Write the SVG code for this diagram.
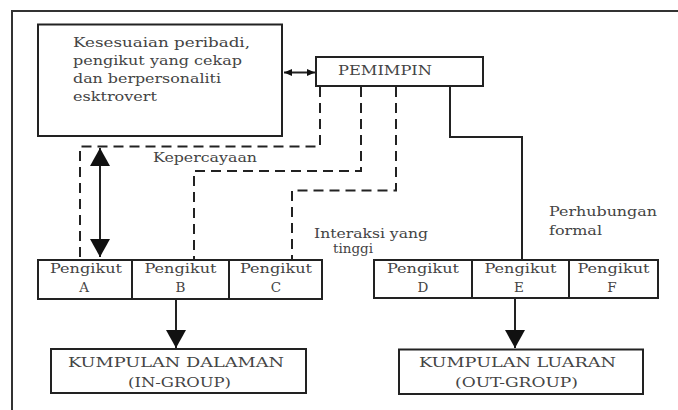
<svg xmlns="http://www.w3.org/2000/svg" width="678" height="410" viewBox="0 0 678 410">
  <defs>
    <marker id="big" viewBox="0 0 18 20" refX="18" refY="10" markerWidth="18" markerHeight="20" markerUnits="userSpaceOnUse" orient="auto-start-reverse">
      <path d="M0,0 L18,10 L0,20 Z" fill="#111"/>
    </marker>
    <marker id="small" viewBox="0 0 8 7" refX="8" refY="3.5" markerWidth="8" markerHeight="7" markerUnits="userSpaceOnUse" orient="auto-start-reverse">
      <path d="M0,0 L8,3.5 L0,7 Z" fill="#111"/>
    </marker>
  </defs>
  <style>
    .box { fill: #fff; stroke: #222; stroke-width: 2; }
    .t { font-family: "DejaVu Serif", "Liberation Serif", serif; font-size: 13.5px; fill: #444; }
    .c { text-anchor: middle; }
    .dash { fill: none; stroke: #222; stroke-width: 2; stroke-dasharray: 10 6; }
    .solid { fill: none; stroke: #222; stroke-width: 2; }
  </style>
  <rect x="0" y="0" width="678" height="410" fill="#fff"/>
  <path d="M12,410 L12,11 L678,11" fill="none" stroke="#333" stroke-width="2"/>

  <g id="connectors">
    <path class="dash" d="M320,87 L320,146.5 L80,146.5 L80,260"/>
    <path class="dash" d="M361,87 L361,171 L194,171 L194,260"/>
    <path class="dash" d="M396,87 L396,190.5 L292,190.5 L292,260"/>
    <path class="solid" d="M450,87 L450,137 L522,137 L522,260"/>
    <line class="solid" x1="284" y1="72.5" x2="315" y2="72.5" marker-start="url(#small)" marker-end="url(#small)"/>
    <line class="solid" x1="100" y1="148" x2="100" y2="257" marker-start="url(#big)" marker-end="url(#big)"/>
    <line class="solid" x1="176" y1="300" x2="176" y2="348" marker-end="url(#big)"/>
    <line class="solid" x1="515" y1="298" x2="515" y2="348" marker-end="url(#big)"/>
  </g>

  <g id="label-kepercayaan">
    <text class="t" x="153" y="162" textLength="104" lengthAdjust="spacingAndGlyphs">Kepercayaan</text>
  </g>
  <g id="label-interaksi">
    <text class="t" x="314" y="238" textLength="114" lengthAdjust="spacingAndGlyphs">Interaksi yang</text>
    <text class="t c" x="353" y="253">tinggi</text>
  </g>
  <g id="label-perhubungan">
    <text class="t" x="549" y="216" textLength="108" lengthAdjust="spacingAndGlyphs">Perhubungan</text>
    <text class="t" x="549" y="235" textLength="53" lengthAdjust="spacingAndGlyphs">formal</text>
  </g>

  <g id="sifat">
    <rect class="box" x="38" y="24.5" width="244" height="111.5"/>
    <text class="t" x="73" y="47" textLength="177" lengthAdjust="spacingAndGlyphs">Kesesuaian peribadi,</text>
    <text class="t" x="73" y="65" textLength="169" lengthAdjust="spacingAndGlyphs">pengikut yang cekap</text>
    <text class="t" x="73" y="83" textLength="148" lengthAdjust="spacingAndGlyphs">dan berpersonaliti</text>
    <text class="t" x="73" y="101" textLength="84" lengthAdjust="spacingAndGlyphs">esktrovert</text>
  </g>

  <g id="pemimpin">
    <rect class="box" x="316" y="57" width="167" height="29"/>
    <text class="t" x="338" y="75" textLength="94" lengthAdjust="spacingAndGlyphs">PEMIMPIN</text>
  </g>

  <g id="pengikut-a">
    <rect class="box" x="38" y="260" width="94" height="39"/>
    <text class="t c" x="86" y="273" textLength="72" lengthAdjust="spacingAndGlyphs">Pengikut</text>
    <text class="t c" x="84" y="292">A</text>
  </g>
  <g id="pengikut-b">
    <rect class="box" x="132" y="260" width="97" height="39"/>
    <text class="t c" x="180.5" y="273" textLength="72" lengthAdjust="spacingAndGlyphs">Pengikut</text>
    <text class="t c" x="180.5" y="292">B</text>
  </g>
  <g id="pengikut-c">
    <rect class="box" x="229" y="260" width="93" height="39"/>
    <text class="t c" x="276" y="273" textLength="72" lengthAdjust="spacingAndGlyphs">Pengikut</text>
    <text class="t c" x="276" y="292">C</text>
  </g>

  <g id="pengikut-d">
    <rect class="box" x="374" y="260" width="98" height="38"/>
    <text class="t c" x="423" y="273" textLength="72" lengthAdjust="spacingAndGlyphs">Pengikut</text>
    <text class="t c" x="423" y="292">D</text>
  </g>
  <g id="pengikut-e">
    <rect class="box" x="472" y="260" width="97" height="38"/>
    <text class="t c" x="520.5" y="273" textLength="72" lengthAdjust="spacingAndGlyphs">Pengikut</text>
    <text class="t c" x="519" y="292">E</text>
  </g>
  <g id="pengikut-f">
    <rect class="box" x="569" y="260" width="89" height="38"/>
    <text class="t c" x="613.5" y="273" textLength="72" lengthAdjust="spacingAndGlyphs">Pengikut</text>
    <text class="t c" x="612" y="292">F</text>
  </g>

  <g id="kumpulan-dalaman">
    <rect class="box" x="51" y="349" width="255" height="44"/>
    <text class="t" x="68" y="367" textLength="216" lengthAdjust="spacingAndGlyphs">KUMPULAN DALAMAN</text>
    <text class="t" x="128" y="387" textLength="103" lengthAdjust="spacingAndGlyphs">(IN-GROUP)</text>
  </g>

  <g id="kumpulan-luaran">
    <rect class="box" x="399" y="349.5" width="244" height="44.5"/>
    <text class="t" x="419" y="367" textLength="197" lengthAdjust="spacingAndGlyphs">KUMPULAN LUARAN</text>
    <text class="t" x="455" y="387" textLength="123" lengthAdjust="spacingAndGlyphs">(OUT-GROUP)</text>
  </g>
</svg>
